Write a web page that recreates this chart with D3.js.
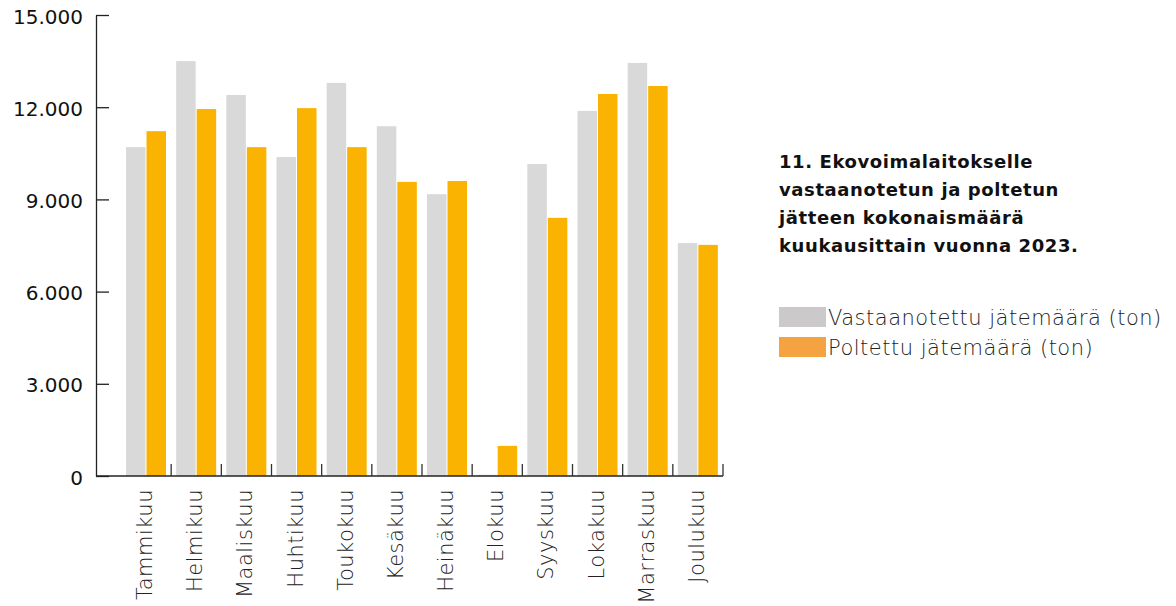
<!DOCTYPE html>
<html><head><meta charset="utf-8">
<script src="https://cdn.jsdelivr.net/npm/d3@7"></script>
<style>body{margin:0;background:#fff}svg{display:block}</style>
</head><body>
<svg id="c" width="1176" height="606"></svg>
<script>
const months = ["Tammikuu","Helmikuu","Maaliskuu","Huhtikuu","Toukokuu","Kesäkuu","Heinäkuu","Elokuu","Syyskuu","Lokakuu","Marraskuu","Joulukuu"];
const received = [10700,13500,12400,10380,12790,11380,9170,40,10150,11880,13440,7580];
const burned = [11220,11940,10700,11970,10700,9570,9600,980,8400,12430,12690,7520];
const seriesNames = ["Vastaanotettu jätemäärä (ton)","Poltettu jätemäärä (ton)"];
const barColors = ["#d9d9d9","#fab300"];
const legendColors = ["#cbc9c9","#f4a340"];
const yTicks = [0,3000,6000,9000,12000,15000];
const titleLines = ["11. Ekovoimalaitokselle","vastaanotetun ja poltetun","jätteen kokonaismäärä","kuukausittain vuonna 2023."];

(function(){
const svg = d3.select("#c");
const font = "'DejaVu Sans', sans-serif";
const axisX = 96, plotTop = 15, plotBottom = 476;
const y = d3.scaleLinear().domain([0,15000]).range([plotBottom, plotTop]);
const x = d3.scaleBand().domain(months).range([121, 723]).padding(0);
const xi = d3.scaleBand().domain([0,1]).range([5,45]).paddingInner(0.05);
const fmt = v => d3.format(",")(v).replace(/,/g, ".");

const g = svg.append("g");
months.forEach((m, i) => {
  [received[i], burned[i]].forEach((v, s) => {
    g.append("rect")
      .attr("x", x(m) + xi(s))
      .attr("width", xi.bandwidth())
      .attr("y", y(v))
      .attr("height", plotBottom - y(v))
      .attr("fill", barColors[s]);
  });
});

const ya = svg.append("g").attr("transform", `translate(${axisX},0)`)
  .call(d3.axisLeft(y).tickValues(yTicks).tickFormat(fmt).tickSize(-13).tickSizeOuter(0).tickPadding(13));
ya.select(".domain").attr("stroke", "#222").attr("stroke-width", 1.3);
ya.selectAll(".tick line").attr("stroke", "#222").attr("stroke-width", 1.3);
ya.selectAll(".tick text").attr("font-family", font).attr("font-size", 20).attr("fill", "#111").attr("x", -13).attr("dy", "0.4em");

svg.append("line").attr("x1", axisX).attr("x2", x.range()[1]).attr("y1", plotBottom).attr("y2", plotBottom)
  .attr("stroke", "#222").attr("stroke-width", 1.3);
svg.append("g").selectAll("line").data(months).join("line")
  .attr("x1", d => x(d) + x.bandwidth()).attr("x2", d => x(d) + x.bandwidth())
  .attr("y1", plotBottom).attr("y2", plotBottom - 12)
  .attr("stroke", "#333").attr("stroke-width", 1.3);
svg.append("g").selectAll("text").data(months).join("text")
  .attr("transform", d => `translate(${x(d) + x.bandwidth()/2 + 6},489) rotate(-90)`)
  .attr("text-anchor", "end")
  .attr("font-family", font).attr("font-size", 21).attr("letter-spacing", 0.5).attr("font-weight", 200).attr("fill", "#222")
  .text(d => d);

svg.append("g").selectAll("text").data(titleLines).join("text")
  .attr("x", 779).attr("y", (d, i) => 168 + i * 28)
  .attr("font-family", font).attr("font-size", 18).attr("letter-spacing", 0.6).attr("font-weight", 700).attr("fill", "#111")
  .text(d => d);

const lg = svg.append("g");
seriesNames.forEach((n, i) => {
  lg.append("rect").attr("x", 779).attr("y", 307 + i * 30).attr("width", 47).attr("height", 20).attr("fill", legendColors[i]);
  lg.append("text").attr("x", 828).attr("y", 325 + i * 30)
    .attr("font-family", font).attr("font-size", 21).attr("letter-spacing", 0.5).attr("font-weight", 200).attr("fill", "#222").text(n);
});
})();
</script>
</body></html>
